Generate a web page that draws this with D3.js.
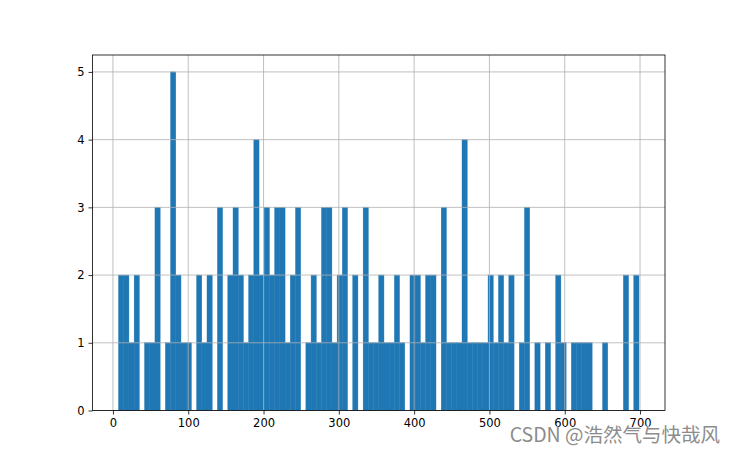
<!DOCTYPE html>
<html>
<head>
<meta charset="utf-8">
<script src="https://cdn.jsdelivr.net/npm/d3@7"></script>
<style>
  html, body { margin: 0; padding: 0; background: #fff; }
  svg { display: block; }
</style>
</head>
<body>
<svg id="chart" width="737" height="456"></svg>
<script>
// ---- data (100 bins) ----
const counts = [
  2,2,1,2,0,1,1,3,0,1, 5,2,1,1,0,2,1,2,0,3,
  0,2,3,2,1,2,4,2,3,2, 3,3,1,2,3,0,1,2,1,3,
  3,1,2,3,0,2,0,3,1,1, 2,1,1,2,1,0,2,2,1,2,
  2,0,3,1,1,1,4,1,1,1, 1,2,1,2,1,2,0,1,3,0,
  1,0,1,0,2,1,0,1,1,1, 1,0,0,1,0,0,0,2,0,2
];
const binStart = 7.4;
const binEnd = 698.6;
const xTickValues = [0, 100, 200, 300, 400, 500, 600, 700];
const yTickValues = [0, 1, 2, 3, 4, 5];
const watermark = "CSDN @浩然气与快哉风";

// ---- layout ----
const plotL = 92.5, plotR = 665, plotT = 55, plotB = 410.5;
const svg = d3.select("#chart");

const nBins = counts.length;
const binW = (binEnd - binStart) / nBins;
const bins = counts.map((c, i) => ({ x0: binStart + i * binW, x1: binStart + (i + 1) * binW, c }));

const span = binEnd - binStart;
const x = d3.scaleLinear().domain([binStart - 0.05 * span, binEnd + 0.05 * span]).range([plotL, plotR]);
const y = d3.scaleLinear().domain([0, 5.25]).range([plotB, plotT]);

// bars
svg.append("g").selectAll("rect").data(bins.filter(d => d.c > 0)).join("rect")
  .attr("x", d => x(d.x0))
  .attr("width", d => x(d.x1) - x(d.x0))
  .attr("y", d => y(d.c))
  .attr("height", d => y(0) - y(d.c))
  .attr("fill", "#1f77b4")
  .attr("stroke", "#1f77b4")
  .attr("stroke-width", 0.4);

// grid (over the bars, like matplotlib)
const grid = svg.append("g").attr("stroke", "#b0b0b0").attr("stroke-width", 0.8);
grid.selectAll("line.v").data(xTickValues).join("line").attr("class", "v")
  .attr("x1", d => x(d)).attr("x2", d => x(d)).attr("y1", plotT).attr("y2", plotB);
grid.selectAll("line.h").data(yTickValues).join("line").attr("class", "h")
  .attr("x1", plotL).attr("x2", plotR).attr("y1", d => y(d)).attr("y2", d => y(d));

// axes
const fontFam = "'DejaVu Sans', sans-serif";
const xAxis = svg.append("g").attr("transform", `translate(0,${plotB})`)
  .call(d3.axisBottom(x).tickValues(xTickValues).tickSize(4).tickPadding(4).tickFormat(d3.format("d")));
const yAxis = svg.append("g").attr("transform", `translate(${plotL},0)`)
  .call(d3.axisLeft(y).tickValues(yTickValues).tickSize(4).tickPadding(4).tickFormat(d3.format("d")));
[xAxis, yAxis].forEach(a => {
  a.select(".domain").remove();
  a.selectAll("line").attr("stroke", "#000").attr("stroke-width", 0.8);
  a.selectAll("text").attr("font-family", fontFam).attr("font-size", "11.5px").attr("fill", "#000");
});

// spines
svg.append("rect")
  .attr("x", plotL).attr("y", plotT).attr("width", plotR - plotL).attr("height", plotB - plotT)
  .attr("fill", "none").attr("stroke", "#000").attr("stroke-width", 0.8);

// watermark (overlaps the last tick labels, as in the reference)
svg.append("text")
  .attr("x", 720).attr("y", 442)
  .attr("text-anchor", "end")
  .attr("font-family", "'Noto Sans CJK SC', 'Noto Sans', sans-serif")
  .attr("font-size", "19.5px")
  .attr("fill", "#8c8c8c")
  .attr("stroke", "#ffffff").attr("stroke-width", 0.6).attr("paint-order", "stroke")
  .text(watermark);
</script>
</body>
</html>
